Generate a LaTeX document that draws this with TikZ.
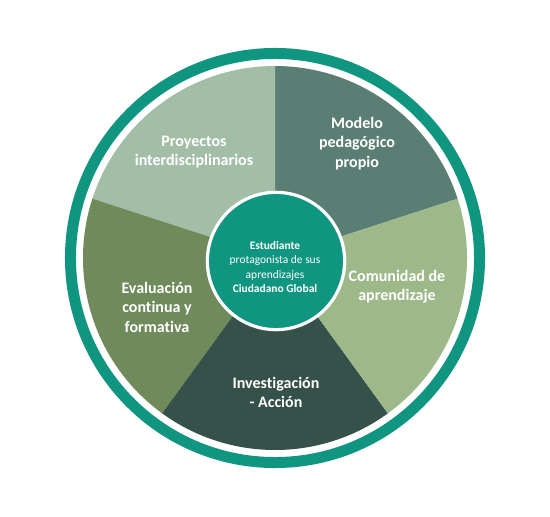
\documentclass[tikz,border=0pt]{standalone}
\usepackage{fontspec}
\setmainfont{Carlito}[Ligatures={NoCommon}]
\definecolor{ringteal}{RGB}{16,150,128}
\definecolor{cproy}{RGB}{162,190,166}
\definecolor{cmodelo}{RGB}{90,126,116}
\definecolor{ccomun}{RGB}{157,185,138}
\definecolor{cinvest}{RGB}{54,80,74}
\definecolor{ceval}{RGB}{111,139,92}
\begin{document}
\begin{tikzpicture}[x=0.75pt,y=-0.75pt,
  lbl/.style={text=white, align=center, font=\bfseries\fontsize{12pt}{14.6pt}\selectfont, inner sep=0pt},
  sector/.style={draw=none}]
\useasboundingbox (0,0) rectangle (550,517);
\fill[white] (0,0) rectangle (550,517);
\coordinate (O) at (275,258);
% outer ring
\draw[ringteal, line width=8.25pt] (O) circle[radius=153.4pt];
% sectors
\fill[cmodelo] (O) -- ++(18:144pt) arc[start angle=18, end angle=90, radius=144pt] -- cycle;
\fill[cproy] (O) -- ++(90:144pt) arc[start angle=90, end angle=162, radius=144pt] -- cycle;
\fill[ceval] (O) -- ++(162:144pt) arc[start angle=162, end angle=234, radius=144pt] -- cycle;
\fill[cinvest] (O) -- ++(234:144pt) arc[start angle=234, end angle=306, radius=144pt] -- cycle;
\fill[ccomun] (O) -- ++(306:144pt) arc[start angle=306, end angle=378, radius=144pt] -- cycle;
% center circle
\node[circle, fill=ringteal, draw=white, line width=2.4pt, minimum size=103pt, inner sep=0pt] (hub) at (276,261) {};
\node[text=white, align=center, font=\fontsize{8.6pt}{10.9pt}\selectfont, inner sep=0pt] (hubtxt) at (275,267)
  {\textbf{Estudiante}\\protagonista de sus\\aprendizajes\\\textbf{Ciudadano Global}};
% labels
\node[lbl] (proy) at (194,152) {Proyectos\\interdisciplinarios};
\node[lbl] (modelo) at (357,143.5) {Modelo\\pedagógico\\propio};
\node[lbl] (comun) at (397,286.5) {Comunidad de\\aprendizaje};
\node[lbl] (eval) at (157,307) {Evaluación\\continua y\\formativa};
\node[lbl] (invest) at (276,392.5) {Investigación\\- Acción};
\end{tikzpicture}
\end{document}
